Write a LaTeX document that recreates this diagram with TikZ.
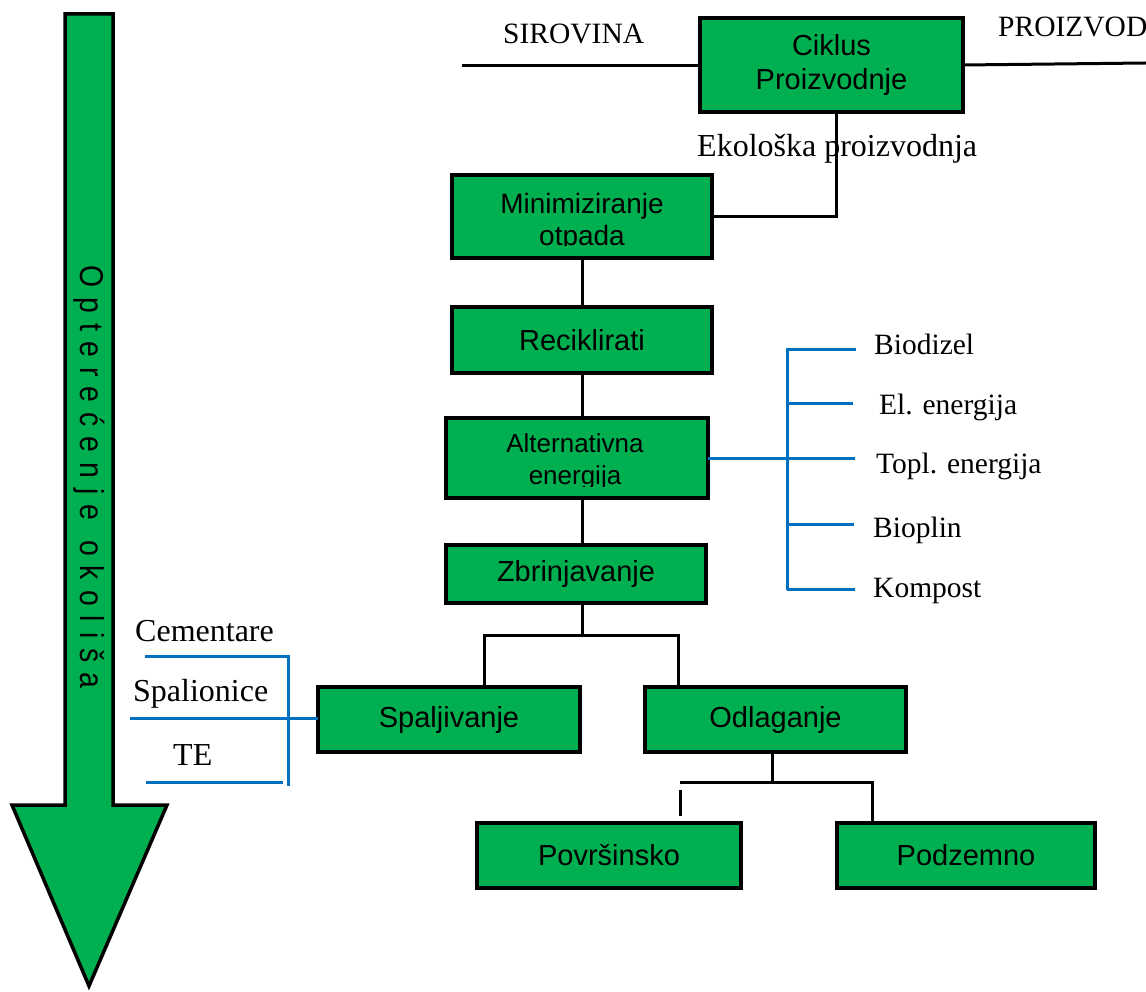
\documentclass[tikz,border=0pt]{standalone}
\usepackage{fontspec}
\setmainfont{Liberation Serif}
\setsansfont{Liberation Sans}
\newfontfamily\narrowsans{Liberation Sans}[FakeStretch=0.86]
\definecolor{boxgreen}{RGB}{0,176,80}
\definecolor{linkblue}{RGB}{0,112,192}
\newcommand{\lsp}{\hspace{10pt}}

\begin{document}
\begin{tikzpicture}[x=1pt,y=-1pt,
  stage/.style={draw=black, fill=boxgreen, line width=4.5pt, inner sep=0pt, outer sep=0pt,
    align=center, font=\sffamily\fontsize{29}{34}\selectfont},
  stagetext/.style={inner sep=0pt, align=center},
  link/.style={draw=black, line width=3pt},
  bluelink/.style={draw=linkblue, line width=3pt},
  lbl/.style={inner sep=0pt, font=\rmfamily\fontsize{29.5}{34}\selectfont},
  biglbl/.style={inner sep=0pt, font=\rmfamily\fontsize{32}{36}\selectfont},
]
\useasboundingbox (0,0) rectangle (1146,992);

% pressure-on-environment arrow
\draw[fill=boxgreen, line width=3.5pt, line join=miter]
  (65,14) -- (113,14) -- (113,805) -- (167,805) -- (89,986) -- (12,805) -- (65,805) -- cycle;
\node[rotate=-90, inner sep=0pt, font=\narrowsans\fontsize{33}{33}\selectfont] (load) at (89,477)
  {O\lsp p\lsp t\lsp e\lsp r\lsp e\lsp ć\lsp e\lsp n\lsp j\lsp e\lsp\lsp o\lsp k\lsp o\lsp l\lsp i\lsp š\lsp a};

% process boxes
\node[stage, minimum width=263, minimum height=94] (ciklus) at (831.5,65) {Ciklus\\Proizvodnje};
\node[stage, minimum width=260, minimum height=83] (minim) at (582,216.5) {};
\begin{scope}
  \clip (minim.north west) rectangle (minim.east |- 0,246);
  \node[stagetext, font=\sffamily\fontsize{28}{32}\selectfont] (minimtxt) at (582,222) {Minimiziranje\\otpada};
\end{scope}
\node[stage, minimum width=260, minimum height=66] (recikl) at (582,340) {Reciklirati};
\node[stage, minimum width=262, minimum height=80] (altern) at (577,458) {};
\begin{scope}
  \clip (altern.north west) rectangle (altern.east |- 0,486);
  \node[stagetext, font=\sffamily\fontsize{26}{32}\selectfont] (alterntxt) at (575,462) {Alternativna\\energija};
\end{scope}
\node[stage, minimum width=260, minimum height=58] (zbrinj) at (576,574) {Zbrinjavanje};
\node[stage, minimum width=262, minimum height=65] (spalj) at (449,719.5) {Spaljivanje};
\node[stage, minimum width=261, minimum height=65] (odlag) at (775.5,719.5) {Odlaganje};
\node[stage, minimum width=264, minimum height=65] (povrs) at (609,855.5) {Površinsko};
\node[stage, minimum width=258, minimum height=65] (podz) at (966,855.5) {Podzemno};

% input / output of the production cycle
\coordinate (rawin) at (462,66);
\coordinate (prodout) at (1146,63);
\draw[link] (rawin) -- (rawin -| ciklus.west);
\draw[link] (ciklus.east) -- (prodout);
\node[lbl, anchor=base west] (sirovina) at (503,44) {SIROVINA};
\node[lbl, anchor=base west] (proizvod) at (998,37) {PROIZVOD};

% main chain
\draw[link] ([xshift=4.5pt]ciklus.south) |- (minim.east);
\node[biglbl, anchor=base west] (eko) at (697,157) {Ekološka proizvodnja};
\draw[link] (minim.south) -- (recikl.north);
\draw[link] (recikl.south) -- (recikl.south |- altern.north);
\draw[link] (recikl.south |- altern.south) -- (recikl.south |- zbrinj.north);
\coordinate (split) at (582,635);
\draw[link] (recikl.south |- zbrinj.south) -- (split);
\draw[link] ([xshift=35pt]spalj.north) |- (split) -| ([xshift=-97.5pt]odlag.north);

% disposal branches
\coordinate (split2) at (772,782);
\coordinate (tickend) at (680,782);
\draw[link] (split2 |- odlag.south) -- (split2);
\draw[link] (tickend) -- (split2) -| ([xshift=-94pt]podz.north);
\draw[link] (680,790) -- (680,816);

% alternative energy outputs
\coordinate (abar) at (787,458);
\draw[bluelink] (altern.east) -- (abar);
\draw[bluelink] (787,348) -- (787,590);
\foreach \yy/\xe in {349/856, 403/853, 458/855, 524/854, 589/855}
  \draw[bluelink] (787,\yy) -- (\xe,\yy);
\node[lbl, anchor=base west] (biodizel) at (874,354) {Biodizel};
\node[lbl, anchor=base west] (elen) at (879,414) {El. energija};
\node[lbl, anchor=base west] (toplen) at (876,473) {Topl. energija};
\node[lbl, anchor=base west] (bioplin) at (873,537) {Bioplin};
\node[lbl, anchor=base west] (kompost) at (873,597) {Kompost};

% incineration sites
\draw[bluelink] (288,655) -- (288,786);
\draw[bluelink] (145,656) -- (288,656);
\draw[bluelink] (130,718) -- (spalj.west |- 0,718);
\draw[bluelink] (146,782) -- (283,782);
\node[biglbl, anchor=base west] (cement) at (135,641) {Cementare};
\node[biglbl, anchor=base west] (spalion) at (133,701) {Spalionice};
\node[biglbl, anchor=base west] (te) at (173,765) {TE};
\end{tikzpicture}
\end{document}
